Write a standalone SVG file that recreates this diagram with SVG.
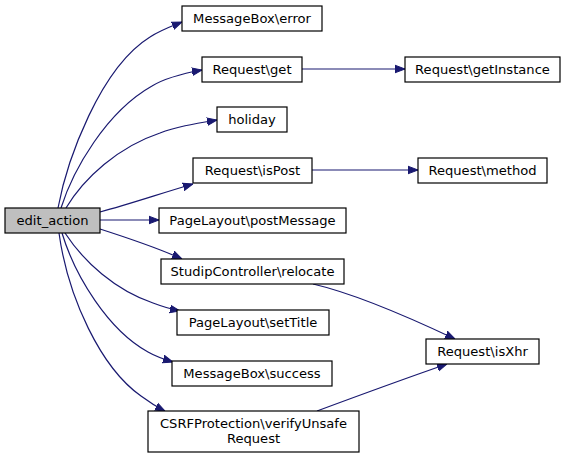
<svg xmlns="http://www.w3.org/2000/svg" width="565" height="458" viewBox="0 0 565 458">
<defs>
<marker id="ah" viewBox="0 0 10 10" refX="10" refY="5" markerWidth="10" markerHeight="10" markerUnits="userSpaceOnUse" orient="auto">
<path d="M0,1.2 L10,5 L0,8.8 Z" fill="#191970" stroke="#191970" stroke-width="1"/>
</marker>
<style>
.n rect{fill:#ffffff;stroke:#000000;stroke-width:1.2}
.n text{font-family:"DejaVu Sans",sans-serif;font-size:13.1px;fill:#000000;text-anchor:middle}
#edges path{fill:none;stroke:#191970;stroke-width:1.2;marker-end:url(#ah)}
</style>
</defs>
<rect width="565" height="458" fill="#ffffff"/>
<g id="edges">
<path d="M58,208 C67,160 100,68 150,37 C159,31 167,28 182,22"/>
<path d="M61,208 C73,170 106,112 152,86 C165,78 180,74 202,70"/>
<path d="M66,208 C84,178 118,147 160,133 C175,127 193,124 217,120"/>
<path d="M100,212 C130,204 162,193 193,184"/>
<path d="M100,220 L159,220"/>
<path d="M100,229 C128,238 158,248 182,259"/>
<path d="M65,233 C84,262 115,290 153,303 C161,306 170,309 180,311"/>
<path d="M62,233 C75,276 108,330 148,352 C155,356 163,359 173,362"/>
<path d="M59,233 C68,298 101,368 141,396 C149,402 157,407 165,411"/>
<path d="M302,69 L405,69"/>
<path d="M312,170 L418,170"/>
<path d="M313,284 C352,293 400,313 455,339"/>
<path d="M317,411 C352,398 401,380 447,364"/>
</g>
<g id="edit_action" class="n"><rect x="5" y="208" width="95" height="25" style="fill:#bfbfbf"/><text x="52.5" y="225">edit_action</text></g>
<g id="messagebox_error" class="n"><rect x="182" y="6" width="140" height="25"/><text x="252" y="23">MessageBox\error</text></g>
<g id="request_get" class="n"><rect x="202" y="57" width="100" height="25"/><text x="252" y="74">Request\get</text></g>
<g id="holiday" class="n"><rect x="217" y="107" width="70" height="25"/><text x="252" y="124">holiday</text></g>
<g id="request_ispost" class="n"><rect x="193" y="158" width="119" height="25"/><text x="252.5" y="175">Request\isPost</text></g>
<g id="pagelayout_postmessage" class="n"><rect x="159" y="208" width="187" height="25"/><text x="252.5" y="225">PageLayout\postMessage</text></g>
<g id="studipcontroller_relocate" class="n"><rect x="161" y="259" width="183" height="25"/><text x="252.5" y="276">StudipController\relocate</text></g>
<g id="pagelayout_settitle" class="n"><rect x="177" y="310" width="152" height="25"/><text x="253" y="327">PageLayout\setTitle</text></g>
<g id="messagebox_success" class="n"><rect x="172" y="361" width="160" height="25"/><text x="252" y="378">MessageBox\success</text></g>
<g id="csrf_verify" class="n"><rect x="148" y="411" width="211" height="41"/><text x="253.5" y="428">CSRFProtection\verifyUnsafe</text><text x="253.5" y="443">Request</text></g>
<g id="request_getinstance" class="n"><rect x="405" y="57" width="155" height="25"/><text x="482.5" y="74">Request\getInstance</text></g>
<g id="request_method" class="n"><rect x="418" y="158" width="129" height="25"/><text x="482.5" y="175">Request\method</text></g>
<g id="request_isxhr" class="n"><rect x="426" y="339" width="113" height="25"/><text x="482.5" y="356">Request\isXhr</text></g>
</svg>
